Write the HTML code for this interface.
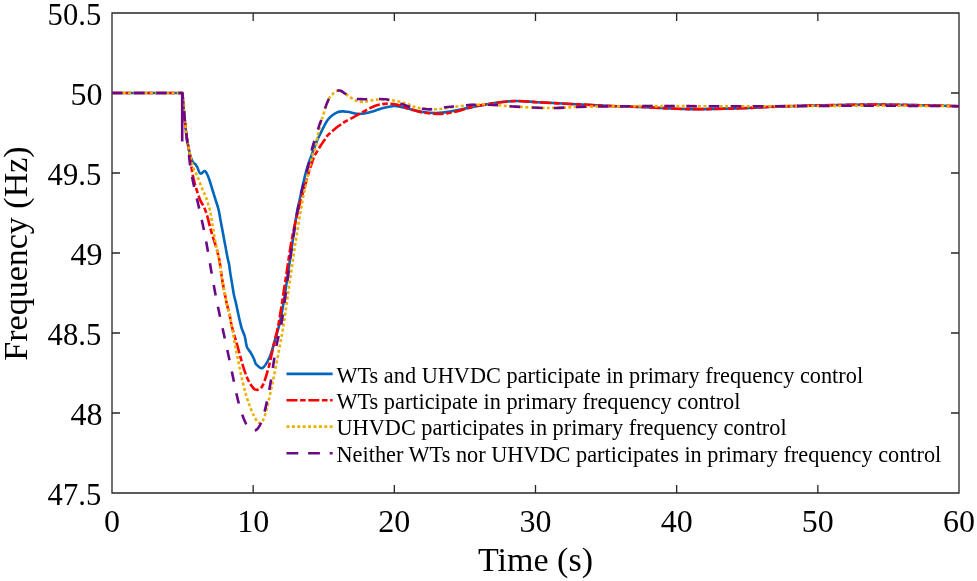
<!DOCTYPE html>
<html><head><meta charset="utf-8"><style>
html,body{margin:0;padding:0;background:#fff;}
svg{display:block;will-change:transform;}
text{font-family:"Liberation Serif",serif;fill:#000;}
</style></head><body>
<svg width="977" height="581" viewBox="0 0 977 581">
<rect width="977" height="581" fill="#fff"/>
<g stroke="#262626" stroke-width="1.3" fill="none">
<path d="M112.0,13.0 H959.0 V493.0 H112.0 Z M253.17,493.0 V485.0 M253.17,13.0 V21.0 M394.33,493.0 V485.0 M394.33,13.0 V21.0 M535.50,493.0 V485.0 M535.50,13.0 V21.0 M676.67,493.0 V485.0 M676.67,13.0 V21.0 M817.83,493.0 V485.0 M817.83,13.0 V21.0 M112.0,93.00 H120.0 M959.0,93.00 H951.0 M112.0,173.00 H120.0 M959.0,173.00 H951.0 M112.0,253.00 H120.0 M959.0,253.00 H951.0 M112.0,333.00 H120.0 M959.0,333.00 H951.0 M112.0,413.00 H120.0 M959.0,413.00 H951.0 "/>
</g>
<g fill="none" stroke-width="2.6" stroke-linejoin="round">
<path d="M112.00,93.00 C123.73,93.00 170.67,93.00 182.40,93.00 C182.72,96.67 183.60,107.75 184.30,115.00 C185.00,122.25 185.90,131.10 186.60,136.50 C187.30,141.90 187.87,144.17 188.50,147.40 C189.13,150.63 189.68,153.45 190.40,155.90 C191.12,158.35 192.40,161.07 192.80,162.10 C193.25,162.48 194.73,163.50 195.50,164.40 C196.27,165.30 196.73,166.13 197.40,167.50 C198.07,168.87 198.87,171.58 199.50,172.60 C200.13,173.62 200.53,173.77 201.20,173.60 C201.87,173.43 202.83,171.98 203.50,171.60 C204.17,171.22 204.57,170.82 205.20,171.30 C205.83,171.78 206.57,172.97 207.30,174.50 C208.03,176.03 208.73,177.92 209.60,180.50 C210.47,183.08 211.52,186.82 212.50,190.00 C213.48,193.18 214.50,196.38 215.50,199.60 C216.50,202.82 217.70,206.08 218.50,209.30 C219.30,212.52 219.70,215.68 220.30,218.90 C220.90,222.12 221.50,225.38 222.10,228.60 C222.70,231.82 223.30,235.00 223.90,238.20 C224.50,241.40 225.10,244.58 225.70,247.80 C226.30,251.02 226.93,254.70 227.50,257.50 C228.07,260.30 228.63,262.00 229.10,264.60 C229.57,267.20 229.80,269.88 230.30,273.10 C230.80,276.32 231.50,280.28 232.10,283.90 C232.70,287.52 233.30,291.78 233.90,294.80 C234.50,297.82 235.10,299.40 235.70,302.00 C236.30,304.60 236.85,307.40 237.50,310.40 C238.15,313.40 238.90,317.02 239.60,320.00 C240.30,322.98 240.83,325.55 241.70,328.30 C242.57,331.05 243.93,333.40 244.80,336.50 C245.67,339.60 245.87,344.13 246.90,346.90 C247.93,349.67 249.80,351.03 251.00,353.10 C252.20,355.17 253.23,357.42 254.10,359.30 C254.97,361.18 254.82,362.95 256.20,364.40 C257.58,365.85 260.17,369.20 262.40,368.00 C264.63,366.80 267.53,361.75 269.60,357.20 C271.67,352.65 273.07,346.57 274.80,340.70 C276.53,334.83 278.47,328.78 280.00,322.00 C281.53,315.22 282.58,308.67 284.00,300.00 C285.42,291.33 287.03,280.00 288.50,270.00 C289.97,260.00 291.47,249.17 292.80,240.00 C294.13,230.83 295.47,221.20 296.50,215.00 C297.53,208.80 297.83,208.30 299.00,202.80 C300.17,197.30 302.25,187.45 303.50,182.00 C304.75,176.55 305.45,173.77 306.50,170.10 C307.55,166.43 308.68,163.23 309.80,160.00 C310.92,156.77 312.05,153.80 313.20,150.70 C314.35,147.60 315.63,143.98 316.70,141.40 C317.77,138.82 318.68,137.10 319.60,135.20 C320.52,133.30 321.33,131.73 322.20,130.00 C323.07,128.27 323.83,126.55 324.80,124.80 C325.77,123.05 326.80,121.05 328.00,119.50 C329.20,117.95 330.33,116.75 332.00,115.50 C333.67,114.25 336.13,112.68 338.00,112.00 C339.87,111.32 341.70,111.43 343.20,111.40 C344.70,111.37 345.53,111.58 347.00,111.80 C348.47,112.02 350.20,112.35 352.00,112.70 C353.80,113.05 355.75,113.77 357.80,113.90 C359.85,114.03 361.85,113.90 364.30,113.50 C366.75,113.10 369.50,112.38 372.50,111.50 C375.50,110.62 379.02,109.08 382.30,108.20 C385.58,107.32 389.47,106.50 392.20,106.20 C394.93,105.90 395.93,105.97 398.70,106.40 C401.47,106.83 404.82,107.87 408.80,108.80 C412.78,109.73 418.00,111.30 422.60,112.00 C427.20,112.70 431.80,113.07 436.40,113.00 C441.00,112.93 445.60,112.30 450.20,111.60 C454.80,110.90 459.38,109.73 464.00,108.80 C468.62,107.87 472.57,107.02 477.90,106.00 C483.23,104.98 489.65,103.53 496.00,102.70 C502.35,101.87 509.17,101.08 516.00,101.00 C522.83,100.92 529.33,101.78 537.00,102.20 C544.67,102.62 553.67,103.07 562.00,103.50 C570.33,103.93 578.83,104.38 587.00,104.80 C595.17,105.22 602.17,105.63 611.00,106.00 C619.83,106.37 626.83,106.48 640.00,107.00 C653.17,107.52 673.33,108.88 690.00,109.10 C706.67,109.32 725.00,108.73 740.00,108.30 C755.00,107.87 763.33,107.05 780.00,106.50 C796.67,105.95 823.33,105.32 840.00,105.00 C856.67,104.68 866.67,104.57 880.00,104.60 C893.33,104.63 906.83,104.93 920.00,105.20 C933.17,105.47 952.50,106.03 959.00,106.20 " stroke="#0066BE"/>
<path d="M112.00,93.00 C123.73,93.00 170.67,93.00 182.40,93.00 C182.72,96.67 183.60,107.75 184.30,115.00 C185.00,122.25 185.90,131.10 186.60,136.50 C187.30,141.90 187.90,143.82 188.50,147.40 C189.10,150.98 189.58,153.90 190.20,158.00 C190.82,162.10 191.48,167.92 192.20,172.00 C192.92,176.08 193.62,179.08 194.50,182.50 C195.38,185.92 196.52,189.48 197.50,192.50 C198.48,195.52 199.32,198.20 200.40,200.60 C201.48,203.00 202.90,204.45 204.00,206.90 C205.10,209.35 206.08,212.30 207.00,215.30 C207.92,218.30 208.58,221.48 209.50,224.90 C210.42,228.32 211.60,232.78 212.50,235.80 C213.40,238.82 214.10,240.40 214.90,243.00 C215.70,245.60 216.60,248.78 217.30,251.40 C218.00,254.02 218.63,256.50 219.10,258.70 C219.57,260.90 219.63,261.40 220.10,264.60 C220.57,267.80 221.20,273.48 221.90,277.90 C222.60,282.32 223.50,286.88 224.30,291.10 C225.10,295.32 225.80,299.18 226.70,303.20 C227.60,307.22 228.90,311.57 229.70,315.20 C230.50,318.83 230.37,320.42 231.50,325.00 C232.63,329.58 234.28,334.92 236.50,342.70 C238.72,350.48 242.38,364.65 244.80,371.70 C247.22,378.75 249.10,381.98 251.00,385.00 C252.90,388.02 254.30,389.63 256.20,389.80 C258.10,389.97 260.33,389.72 262.40,386.00 C264.47,382.28 266.72,374.37 268.60,367.50 C270.48,360.63 271.98,352.38 273.70,344.80 C275.42,337.22 276.93,332.80 278.90,322.00 C280.87,311.20 283.37,293.67 285.50,280.00 C287.63,266.33 289.45,252.18 291.70,240.00 C293.95,227.82 296.42,217.25 299.00,206.90 C301.58,196.55 305.12,185.05 307.20,177.90 C309.28,170.75 310.28,167.68 311.50,164.00 C312.72,160.32 313.58,157.85 314.50,155.80 C315.42,153.75 315.97,153.42 317.00,151.70 C318.03,149.98 319.48,147.40 320.70,145.50 C321.92,143.60 323.18,141.95 324.30,140.30 C325.42,138.65 326.40,136.82 327.40,135.60 C328.40,134.38 328.97,134.20 330.30,133.00 C331.63,131.80 333.53,129.88 335.40,128.40 C337.27,126.92 339.82,125.28 341.50,124.10 C343.18,122.92 343.47,122.45 345.50,121.30 C347.53,120.15 351.38,118.43 353.70,117.20 C356.02,115.97 357.35,115.05 359.40,113.90 C361.45,112.75 363.55,111.58 366.00,110.30 C368.45,109.02 371.38,107.23 374.10,106.20 C376.82,105.17 379.83,104.52 382.30,104.10 C384.77,103.68 386.57,103.62 388.90,103.70 C391.23,103.78 393.85,104.05 396.30,104.60 C398.75,105.15 401.05,106.15 403.60,107.00 C406.15,107.85 408.43,108.78 411.60,109.70 C414.77,110.62 418.47,111.80 422.60,112.50 C426.73,113.20 432.40,113.75 436.40,113.90 C440.40,114.05 442.75,113.93 446.60,113.40 C450.45,112.87 455.05,111.85 459.50,110.70 C463.95,109.55 469.05,107.52 473.30,106.50 C477.55,105.48 481.22,105.23 485.00,104.60 C488.78,103.97 490.83,103.30 496.00,102.70 C501.17,102.10 509.17,101.08 516.00,101.00 C522.83,100.92 529.33,101.78 537.00,102.20 C544.67,102.62 553.67,103.07 562.00,103.50 C570.33,103.93 578.83,104.38 587.00,104.80 C595.17,105.22 602.17,105.63 611.00,106.00 C619.83,106.37 626.83,106.48 640.00,107.00 C653.17,107.52 673.33,108.88 690.00,109.10 C706.67,109.32 725.00,108.73 740.00,108.30 C755.00,107.87 763.33,107.05 780.00,106.50 C796.67,105.95 823.33,105.32 840.00,105.00 C856.67,104.68 866.67,104.57 880.00,104.60 C893.33,104.63 906.83,104.93 920.00,105.20 C933.17,105.47 952.50,106.03 959.00,106.20 " stroke="#FF0000" stroke-dasharray="11 2.6 5.6 2.6"/>
<path d="M112.00,93.00 C123.73,93.00 170.67,93.00 182.40,93.00 C182.72,96.67 183.60,107.75 184.30,115.00 C185.00,122.25 185.90,131.10 186.60,136.50 C187.30,141.90 187.87,144.17 188.50,147.40 C189.13,150.63 189.57,152.38 190.40,155.90 C191.23,159.42 192.52,165.50 193.50,168.50 C194.48,171.50 195.57,172.38 196.30,173.90 C197.03,175.42 196.90,175.08 197.90,177.60 C198.90,180.12 200.88,185.53 202.30,189.00 C203.72,192.47 205.20,195.12 206.40,198.40 C207.60,201.68 208.75,205.93 209.50,208.70 C210.25,211.47 210.40,212.30 210.90,215.00 C211.40,217.70 211.93,221.43 212.50,224.90 C213.07,228.37 213.70,232.28 214.30,235.80 C214.90,239.32 215.40,242.58 216.10,246.00 C216.80,249.42 217.83,253.20 218.50,256.30 C219.17,259.40 219.53,261.00 220.10,264.60 C220.67,268.20 221.20,273.48 221.90,277.90 C222.60,282.32 223.50,286.88 224.30,291.10 C225.10,295.32 225.80,299.18 226.70,303.20 C227.60,307.22 228.90,311.57 229.70,315.20 C230.50,318.83 230.53,319.72 231.50,325.00 C232.47,330.28 233.63,337.40 235.50,346.90 C237.37,356.40 240.28,372.02 242.70,382.00 C245.12,391.98 247.42,400.08 250.00,406.80 C252.58,413.52 255.80,420.60 258.20,422.30 C260.60,424.00 261.98,423.72 264.40,417.00 C266.82,410.28 270.10,394.03 272.70,382.00 C275.30,369.97 278.12,354.80 280.00,344.80 C281.88,334.80 282.33,332.80 284.00,322.00 C285.67,311.20 288.02,293.67 290.00,280.00 C291.98,266.33 293.88,252.87 295.90,240.00 C297.92,227.13 300.22,213.15 302.10,202.80 C303.98,192.45 305.80,184.37 307.20,177.90 C308.60,171.43 309.55,168.03 310.50,164.00 C311.45,159.97 312.07,156.35 312.90,153.70 C313.73,151.05 314.90,149.90 315.50,148.10 C316.10,146.30 316.22,144.63 316.50,142.90 C316.78,141.17 316.87,139.50 317.20,137.70 C317.53,135.90 317.87,134.72 318.50,132.10 C319.13,129.48 320.25,124.70 321.00,122.00 C321.75,119.30 322.20,118.47 323.00,115.90 C323.80,113.33 324.78,109.52 325.80,106.60 C326.82,103.68 328.13,100.32 329.10,98.40 C330.07,96.48 330.65,96.15 331.60,95.10 C332.55,94.05 333.67,92.87 334.80,92.10 C335.93,91.33 337.40,90.72 338.40,90.50 C339.40,90.28 339.87,90.42 340.80,90.80 C341.73,91.18 342.80,92.00 344.00,92.80 C345.20,93.60 346.38,94.47 348.00,95.60 C349.62,96.73 351.87,98.58 353.70,99.60 C355.53,100.62 357.10,101.35 359.00,101.70 C360.90,102.05 363.27,101.85 365.10,101.70 C366.93,101.55 368.22,101.15 370.00,100.80 C371.78,100.45 373.07,99.80 375.80,99.60 C378.53,99.40 382.85,99.33 386.40,99.60 C389.95,99.87 394.37,100.72 397.10,101.20 C399.83,101.68 401.00,102.00 402.80,102.50 C404.60,103.00 406.13,103.53 407.90,104.20 C409.67,104.87 411.72,105.88 413.40,106.50 C415.08,107.12 414.47,107.43 418.00,107.90 C421.53,108.37 430.15,109.22 434.60,109.30 C439.05,109.38 441.02,108.87 444.70,108.40 C448.38,107.93 452.82,107.00 456.70,106.50 C460.58,106.00 464.47,105.70 468.00,105.40 C471.53,105.10 475.33,104.88 477.90,104.70 C480.47,104.52 480.65,104.25 483.40,104.30 C486.15,104.35 489.08,104.62 494.40,105.00 C499.72,105.38 508.05,106.13 515.30,106.60 C522.55,107.07 531.12,107.57 537.90,107.80 C544.68,108.03 549.32,108.15 556.00,108.00 C562.68,107.85 568.83,107.17 578.00,106.90 C587.17,106.63 597.33,106.53 611.00,106.40 C624.67,106.27 636.83,106.12 660.00,106.10 C683.17,106.08 725.00,106.32 750.00,106.30 C775.00,106.28 790.00,106.10 810.00,106.00 C830.00,105.90 851.67,105.72 870.00,105.70 C888.33,105.68 905.17,105.82 920.00,105.90 C934.83,105.98 952.50,106.15 959.00,106.20 " stroke="#EDB000" stroke-dasharray="3 2.4"/>
<path d="M112.00,93.00 C123.73,93.00 170.67,93.00 182.40,93.00 C182.72,96.67 183.60,107.75 184.30,115.00 C185.00,122.25 185.92,130.67 186.60,136.50 C187.28,142.33 187.87,145.67 188.40,150.00 C188.93,154.33 189.28,158.75 189.80,162.50 C190.32,166.25 190.92,169.08 191.50,172.50 C192.08,175.92 192.12,177.42 193.30,183.00 C194.48,188.58 196.92,198.57 198.60,206.00 C200.28,213.43 201.90,220.37 203.40,227.60 C204.90,234.83 206.28,242.13 207.60,249.40 C208.92,256.67 210.03,263.93 211.30,271.20 C212.57,278.47 213.83,285.87 215.20,293.00 C216.57,300.13 217.15,302.95 219.50,314.00 C221.85,325.05 226.12,344.53 229.30,359.30 C232.48,374.07 235.67,391.58 238.60,402.60 C241.53,413.62 244.15,420.75 246.90,425.40 C249.65,430.05 252.52,431.53 255.10,430.50 C257.68,429.47 259.98,426.25 262.40,419.20 C264.82,412.15 267.37,399.90 269.60,388.20 C271.83,376.50 273.73,360.37 275.80,349.00 C277.87,337.63 280.05,331.50 282.00,320.00 C283.95,308.50 285.70,293.33 287.50,280.00 C289.30,266.67 290.88,252.87 292.80,240.00 C294.72,227.13 297.12,212.45 299.00,202.80 C300.88,193.15 302.38,189.00 304.10,182.10 C305.82,175.20 307.95,167.05 309.30,161.40 C310.65,155.75 311.28,151.83 312.20,148.20 C313.12,144.57 313.65,143.33 314.80,139.60 C315.95,135.87 317.95,129.25 319.10,125.80 C320.25,122.35 320.62,122.05 321.70,118.90 C322.78,115.75 324.37,110.32 325.60,106.90 C326.83,103.48 328.10,100.37 329.10,98.40 C330.10,96.43 330.65,96.15 331.60,95.10 C332.55,94.05 333.67,92.87 334.80,92.10 C335.93,91.33 337.40,90.72 338.40,90.50 C339.40,90.28 339.87,90.42 340.80,90.80 C341.73,91.18 342.80,92.00 344.00,92.80 C345.20,93.60 346.38,94.63 348.00,95.60 C349.62,96.57 351.12,98.00 353.70,98.60 C356.28,99.20 359.82,99.13 363.50,99.20 C367.18,99.27 372.12,99.00 375.80,99.00 C379.48,99.00 383.15,98.97 385.60,99.20 C388.05,99.43 388.55,99.87 390.50,100.40 C392.45,100.93 395.32,101.77 397.30,102.40 C399.28,103.03 400.17,103.43 402.40,104.20 C404.63,104.97 407.33,106.23 410.70,107.00 C414.07,107.77 419.08,108.42 422.60,108.80 C426.12,109.18 427.97,109.55 431.80,109.30 C435.63,109.05 441.75,107.77 445.60,107.30 C449.45,106.83 451.05,106.87 454.90,106.50 C458.75,106.13 465.18,105.40 468.70,105.10 C472.22,104.80 471.72,104.72 476.00,104.70 C480.28,104.68 487.85,104.68 494.40,105.00 C500.95,105.32 508.05,106.13 515.30,106.60 C522.55,107.07 531.12,107.57 537.90,107.80 C544.68,108.03 549.32,108.15 556.00,108.00 C562.68,107.85 568.83,107.17 578.00,106.90 C587.17,106.63 597.33,106.53 611.00,106.40 C624.67,106.27 636.83,106.12 660.00,106.10 C683.17,106.08 725.00,106.32 750.00,106.30 C775.00,106.28 790.00,106.10 810.00,106.00 C830.00,105.90 851.67,105.72 870.00,105.70 C888.33,105.68 905.17,105.82 920.00,105.90 C934.83,105.98 952.50,106.15 959.00,106.20 " stroke="#6A0888" stroke-dasharray="10.5 11.6"/>
<path d="M182.2,93 L182.2,141.5" stroke="#6A0888"/>
</g>

<g font-size="32">
<text x="112.00" y="531.7" text-anchor="middle">0</text><text x="253.17" y="531.7" text-anchor="middle">10</text><text x="394.33" y="531.7" text-anchor="middle">20</text><text x="535.50" y="531.7" text-anchor="middle">30</text><text x="676.67" y="531.7" text-anchor="middle">40</text><text x="817.83" y="531.7" text-anchor="middle">50</text><text x="959.00" y="531.7" text-anchor="middle">60</text><text x="101.2" y="24.60" text-anchor="end" textLength="53.6" lengthAdjust="spacingAndGlyphs">50.5</text><text x="102.5" y="104.60" text-anchor="end">50</text><text x="101.2" y="184.60" text-anchor="end" textLength="53.6" lengthAdjust="spacingAndGlyphs">49.5</text><text x="102.5" y="264.60" text-anchor="end">49</text><text x="101.2" y="344.60" text-anchor="end" textLength="53.6" lengthAdjust="spacingAndGlyphs">48.5</text><text x="102.5" y="424.60" text-anchor="end">48</text><text x="101.2" y="504.60" text-anchor="end" textLength="53.6" lengthAdjust="spacingAndGlyphs">47.5</text>
</g>
<text x="535.5" y="571" font-size="34" text-anchor="middle">Time (s)</text>
<text transform="translate(26.5,253.5) rotate(-90)" font-size="34" text-anchor="middle">Frequency (Hz)</text>
<g font-size="22.3" fill="none">
<line x1="286.5" y1="373.9" x2="332.6" y2="373.9" stroke="#0066BE" stroke-width="2.6" stroke-dasharray="none"/><text x="336.5" y="382.5">WTs and UHVDC participate in primary frequency control</text><line x1="286.5" y1="400.2" x2="332.6" y2="400.2" stroke="#FF0000" stroke-width="2.6" stroke-dasharray="11 2.6 5.6 2.6"/><text x="336.5" y="408.8">WTs participate in primary frequency control</text><line x1="286.5" y1="426.6" x2="332.6" y2="426.6" stroke="#EDB000" stroke-width="2.6" stroke-dasharray="3 2.4"/><text x="336.5" y="435.2">UHVDC participates in primary frequency control</text><line x1="286.5" y1="453.3" x2="332.6" y2="453.3" stroke="#6A0888" stroke-width="2.6" stroke-dasharray="11.8 9.8"/><text x="336.5" y="461.9">Neither WTs nor UHVDC participates in primary frequency control</text>
</g>
</svg>
</body></html>
